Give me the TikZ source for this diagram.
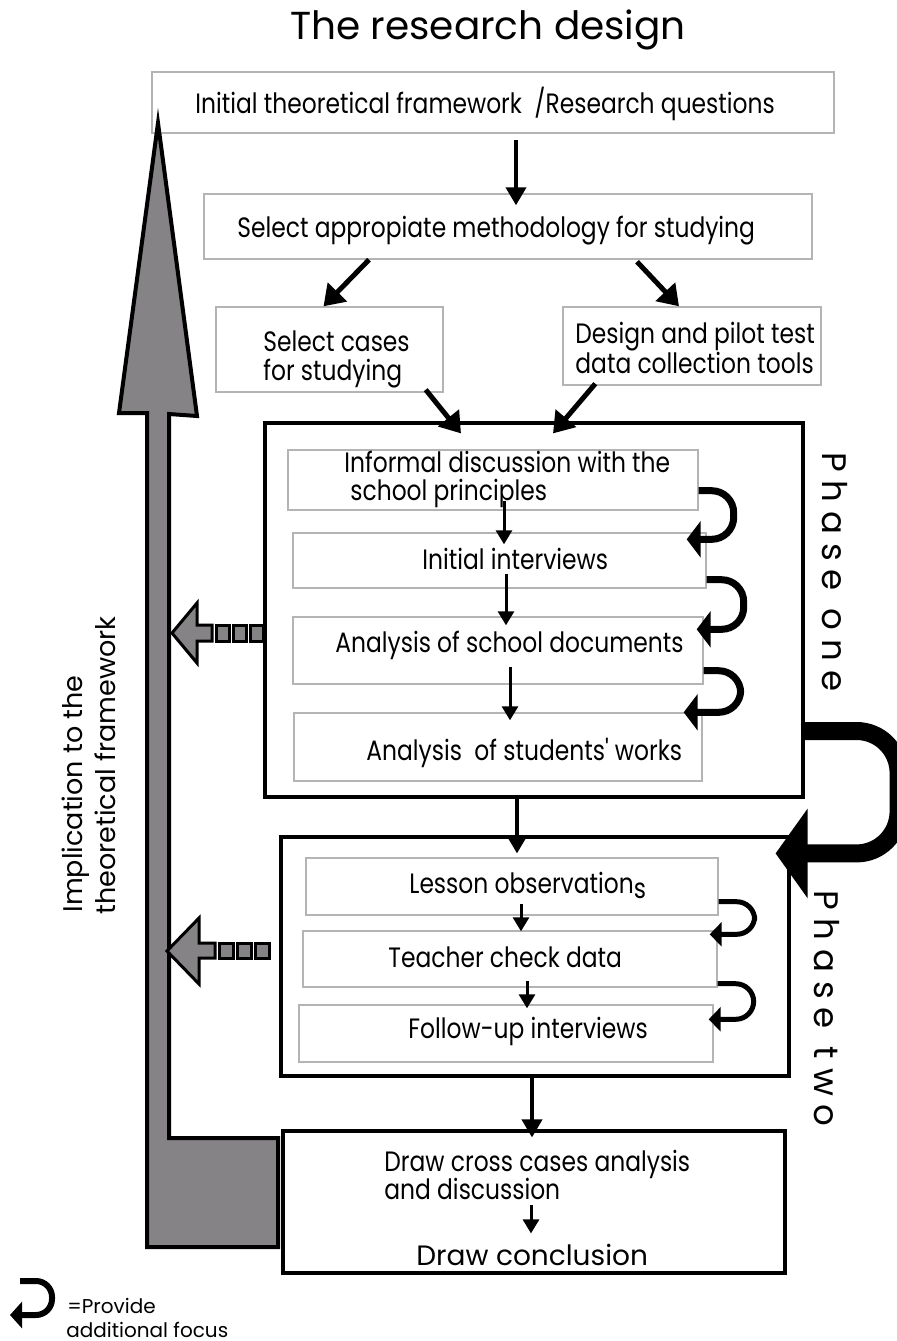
\documentclass[tikz,border=0pt]{standalone}
\usepackage{fontspec}
\setmainfont{Poppins}
\newfontfamily\narrowfont[FakeStretch=0.835]{Poppins}
\newfontfamily\spacedfont[LetterSpace=26]{Poppins}
\usetikzlibrary{arrows.meta}
\definecolor{boxgray}{RGB}{180,180,180}
\definecolor{shaftgray}{RGB}{134,131,134}

\begin{document}
\begin{tikzpicture}[x=0.5pt, y=-0.5pt,
                box/.style = {draw=boxgray, line width=0.7pt, inner sep=0pt},
                phase/.style = {draw, line width=1.6pt, inner sep=0pt},
                txt/.style = {inner sep=0pt, anchor=base west, font=\narrowfont\fontsize{14}{16}\selectfont},
                flow/.style = {line width=2pt, -{Triangle[length=9pt,width=10pt]}},
                diag/.style = {line width=2.5pt, -{Triangle[length=10pt,width=13pt]}},
                nextstep/.style = {line width=1.5pt, -{Triangle[length=7pt,width=8pt]}},
                focus/.style = {line width=3.5pt, rounded corners=11pt, -{Triangle[length=7pt,width=18pt]}},
                smallfocus/.style = {line width=2.5pt, rounded corners=9pt, -{Triangle[length=6pt,width=12pt]}},
                tab/.style = {draw, line width=1.5pt, fill=shaftgray}]
                \useasboundingbox (0,0) rectangle (896,1341);

                \node[inner sep=0pt, anchor=base, font=\fontsize{19.5}{22}\selectfont] (title) at (488,39) {The research design};

                \node[box, minimum width=341pt, minimum height=30.5pt] (framework) at (493,102.5) {};
                \node[txt] (frameworktxt) at (195,113) {Initial theoretical framework\ \ /Research questions};
                \node[box, minimum width=304pt, minimum height=32.5pt] (method) at (508,226.5) {};
                \node[txt] (methodtxt) at (237,237) {Select appropiate methodology for studying};
                \node[box, minimum width=113.5pt, minimum height=42.5pt] (cases) at (329.5,349.5) {};
                \node[txt] (casestxt) at (263,351) {Select cases};
                \node[txt] (casestxtb) at (263,380) {for studying};
                \node[box, minimum width=129pt, minimum height=39pt] (tools) at (692,346) {};
                \node[txt] (toolstxt) at (575,343) {Design and pilot test};
                \node[txt] (toolstxtb) at (575,373) {data collection tools};

                \node[phase, minimum width=269pt, minimum height=187pt] (phaseone) at (534,610) {};
                \node[box, minimum width=205pt, minimum height=30pt] (informal) at (493,480) {};
                \node[txt] (informaltxt) at (344,472) {Informal discussion with the};
                \node[txt] (informaltxtb) at (350,500) {school principles};
                \node[box, minimum width=206.5pt, minimum height=27.5pt] (initial) at (499.5,560.5) {};
                \node[txt] (initialtxt) at (422,569) {Initial interviews};
                \node[box, minimum width=205pt, minimum height=33.5pt] (documents) at (498,650.5) {};
                \node[txt] (documentstxt) at (335,652) {Analysis of school documents};
                \node[box, minimum width=204pt, minimum height=34pt] (works) at (498,747) {};
                \node[txt] (workstxt) at (366,760) {Analysis\ \ of students' works};

                \node[phase, minimum width=254pt, minimum height=119.5pt] (phasetwo) at (535,956.5) {};
                \node[box, minimum width=206pt, minimum height=28.5pt] (lesson) at (512,886.5) {};
                \node[txt] (lessontxt) at (409,893) {Lesson observation\raisebox{-0.2em}{s}};
                \node[box, minimum width=207pt, minimum height=28pt] (check) at (510,959) {};
                \node[txt] (checktxt) at (388,967) {Teacher check data};
                \node[box, minimum width=207pt, minimum height=28.5pt] (follow) at (506,1033.5) {};
                \node[txt] (followtxt) at (408,1038) {Follow-up interviews};

                \node[phase, minimum width=251pt, minimum height=71pt] (final) at (534,1202) {};
                \node[txt] (crosstxt) at (384,1171) {Draw cross cases analysis};
                \node[txt] (crosstxtb) at (384,1199) {and discussion};
                \node[txt, font=\fontsize{14}{16}\selectfont] (conclusion) at (416,1265) {Draw conclusion};

                \node[inner sep=0pt, anchor=base west, rotate=-90, font=\spacedfont\fontsize{17}{20}\selectfont] (phaseonetxt) at (822,452) {Phase one};
                \node[inner sep=0pt, anchor=base west, rotate=-90, font=\spacedfont\fontsize{17}{20}\selectfont] (phasetwotxt) at (814,890) {Phase two};

                \draw[line width=2pt, fill=shaftgray] (158,123) -- (197,416) -- (169,414) -- (169,1138) -- (278,1138) -- (278,1247) -- (147,1247) -- (147,413) -- (119,413) -- cycle;
                \node[inner sep=0pt, anchor=base west, rotate=90, font=\fontsize{13.5}{15}\selectfont] (implication) at (83,913) {Implication to the};
                \node[inner sep=0pt, anchor=base west, rotate=90, font=\fontsize{13.5}{15}\selectfont] (implicationb) at (115,915) {theoretical framework};

                \draw[tab] (172,633) -- (197,603) -- (197,625) -- (212,625) -- (212,641) -- (197,641) -- (197,663) -- cycle;
                \draw[tab] (216,625) rectangle (229,641);
                \draw[tab] (233,625) rectangle (246,641);
                \draw[tab] (250,625) rectangle (263,641);
                \draw[tab] (167,951) -- (199,918) -- (199,943) -- (215,943) -- (215,958) -- (199,958) -- (199,984) -- cycle;
                \draw[tab] (219,943) rectangle (233,958);
                \draw[tab] (237,943) rectangle (251,958);
                \draw[tab] (255,943) rectangle (269,958);

                \draw[flow] ([xshift=11.5pt,yshift=-3pt]framework.south) -- ([xshift=4pt,yshift=-6pt]method.north);
                \draw[diag] ([xshift=-69.5pt]method.south) -- ([xshift=-3pt]cases.north);
                \draw[diag] ([xshift=64.5pt,yshift=-1pt]method.south) -- ([xshift=-6.5pt]tools.north);
                \draw[diag] ([xshift=-9pt,yshift=1.5pt]cases.south east) -- ([xshift=-36.5pt,yshift=-6pt]phaseone.north);
                \draw[diag] ([xshift=16.5pt,yshift=1pt]tools.south west) -- ([xshift=9.5pt,yshift=-6pt]phaseone.north);

                \draw[nextstep] ([xshift=5.5pt,yshift=5pt]informal.south) -- ([xshift=2.25pt,yshift=-6pt]initial.north);
                \draw[nextstep] ([xshift=3.25pt,yshift=7.5pt]initial.south) -- ([xshift=4pt,yshift=-4.5pt]documents.north);
                \draw[nextstep] ([xshift=6pt,yshift=9pt]documents.south) -- ([xshift=6pt,yshift=-4pt]works.north);
                \draw[flow] ([xshift=-8.5pt]phaseone.south) -- ([xshift=-9pt,yshift=-9pt]phasetwo.north);
                \draw[nextstep] ([xshift=4.5pt,yshift=6pt]lesson.south) -- ([xshift=5.5pt,yshift=-0.5pt]check.north);
                \draw[nextstep] ([xshift=8.5pt,yshift=3.5pt]check.south) -- ([xshift=10.5pt,yshift=-2pt]follow.north);
                \draw[flow] ([xshift=-1.5pt]phasetwo.south) -- ([xshift=-1pt,yshift=-4pt]final.north);
                \draw[nextstep] ([xshift=-1.5pt,yshift=-38pt]final.north) -- ([xshift=-1.5pt,yshift=-52pt]final.north);

                \draw[focus] ([yshift=10pt]informal.south east) -- ++(17.5pt,0) |- ([xshift=-10pt,yshift=-3.5pt]initial.north east);
                \draw[focus] ([yshift=4.5pt]initial.south east) -- ++(18.5pt,0) |- ([xshift=-3.5pt,yshift=-6.5pt]documents.north east);
                \draw[focus] ([yshift=7pt]documents.south east) -- ++(18.5pt,0) |- ([xshift=-9.5pt]works.north east);
                \draw[smallfocus] ([yshift=7pt]lesson.south east) -- ++(18pt,0) |- ([xshift=-4pt,yshift=-2pt]check.north east);
                \draw[smallfocus] ([yshift=2pt]check.south east) -- ++(18pt,0) |- ([xshift=-2.5pt,yshift=-7.5pt]follow.north east);

                \draw[line width=9pt, rounded corners=21pt, -{Triangle[length=16pt,width=44pt]}] ([yshift=-60.5pt]phaseone.east) -- ++(47pt,0) |- ([xshift=-7.5pt,yshift=-9pt]phasetwo.north east);

                \coordinate (keyhook) at (20,1281);
                \draw[line width=3pt, rounded corners=8pt, -{Triangle[length=6pt,width=13pt]}] (keyhook) -- ++(16pt,0) |- ++(-21pt,-17pt);
                \node[txt, font=\fontsize{10}{12}\selectfont] (keytxt) at (67,1313) {=Provide};
                \node[txt, font=\fontsize{10}{12}\selectfont] (keytxtb) at (66,1337) {additional focus};
            \end{tikzpicture}
\end{document}
